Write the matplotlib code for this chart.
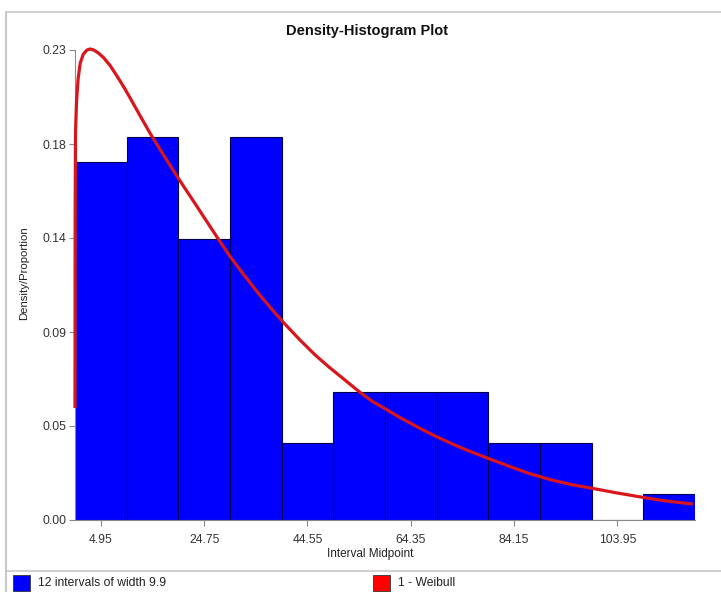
import numpy as np
import matplotlib
matplotlib.use("Agg")
import matplotlib.pyplot as plt
from matplotlib.patches import Rectangle
from matplotlib.lines import Line2D

plt.rcParams['font.family'] = ['Liberation Sans', 'DejaVu Sans']

# Histogram data (12 intervals of width 9.9), proportions per interval
bin_width = 9.9
midpoints = [4.95 + bin_width * i for i in range(12)]
proportions = [0.175, 0.1875, 0.1375, 0.1875, 0.0375, 0.0625,
               0.0625, 0.0625, 0.0375, 0.0375, 0.0, 0.0125]

# Fitted Weibull curve
curve_x = [0.0, 0.03, 0.1, 0.3, 0.6, 1.0, 1.6, 2.3, 2.9, 3.6, 4.5, 5.5, 6.7,
           7.6, 8.6, 9.6, 10.5, 12.5, 14.4, 16.5, 18.5, 20.5, 22.5, 24.5,
           27.2, 29.7, 32.5, 35.5, 38.0, 40.0, 43.1, 46.0, 48.5, 51.0, 54.6,
           57.0, 59.4, 62.5, 66.0, 69.4, 72.5, 75.1, 79.0, 83.0, 87.0, 91.0,
           95.0, 98.7, 103.5, 108.3, 113.0, 118.4]
curve_y = [0.0548, 0.15, 0.19, 0.205, 0.216, 0.2236, 0.228, 0.2300, 0.2305,
           0.2300, 0.2285, 0.2262, 0.2225, 0.219, 0.2150, 0.2108, 0.2068,
           0.1977, 0.1892, 0.1805, 0.1724, 0.1645, 0.1568, 0.1490, 0.1385,
           0.1290, 0.1195, 0.1098, 0.1023, 0.0965, 0.0881, 0.0808, 0.0752,
           0.0700, 0.0625, 0.0580, 0.0545, 0.0498, 0.0450, 0.0406, 0.0370,
           0.0342, 0.0303, 0.0265, 0.0228, 0.0198, 0.0174, 0.0157, 0.0134,
           0.0113, 0.0094, 0.0078]

y_ticks = [0.0, 0.046, 0.092, 0.138, 0.184, 0.23]
x_ticks = [4.95, 24.75, 44.55, 64.35, 84.15, 103.95]

W, H = 721, 592
fig = plt.figure(figsize=(W / 100, H / 100), dpi=100)
ax = fig.add_axes([75 / W, 1 - 520 / H, 620 / W, 470 / H])

ax.bar(midpoints, proportions, width=bin_width, color='#0000ff',
       edgecolor='#00004a', linewidth=0.8, zorder=2)
ax.plot(curve_x, curve_y, color='#d8161b', linewidth=2.3, zorder=3,
        clip_on=False, solid_capstyle='butt', solid_joinstyle='round')

ax.set_xlim(0, 12 * bin_width)
ax.set_ylim(0, 0.23)
ax.set_xticks(x_ticks)
ax.set_xticklabels(['%.2f' % v for v in x_ticks])
ax.set_yticks(y_ticks)
ax.set_yticklabels(['%.2f' % v for v in y_ticks])

for s in ['top', 'right']:
    ax.spines[s].set_visible(False)
for s in ['left', 'bottom']:
    ax.spines[s].set_color('#8a8a8a')
    ax.spines[s].set_linewidth(0.8)
ax.tick_params(axis='both', colors='#8a8a8a', length=4, width=0.8,
               labelcolor='#333333', labelsize=8.7)
ax.tick_params(axis='x', pad=6)
ax.tick_params(axis='y', pad=2)

fig.text(367 / W, 1 - 31 / H, 'Density-Histogram Plot', ha='center',
         va='center', fontsize=10.5, fontweight='bold', color='#111111')
fig.text(370 / W, 1 - 554 / H, 'Interval Midpoint', ha='center',
         va='center', fontsize=8.5, color='#222222')
fig.text(24 / W, 1 - 273 / H, 'Density/Proportion', ha='center',
         va='center', rotation=90, fontsize=8.2, color='#222222')

# window frame lines
fig.add_artist(Line2D([6 / W, 6 / W], [0, 1 - 12 / H], color='#c8c8c8',
                      linewidth=1.5))
fig.add_artist(Line2D([6 / W, 1], [1 - 12 / H, 1 - 12 / H], color='#c8c8c8',
                      linewidth=1.2))
fig.add_artist(Line2D([6 / W, 1], [1 - 571 / H, 1 - 571 / H],
                      color='#c8c8c8', linewidth=1.2))

# legend
legend_items = [('12 intervals of width 9.9', '#0000ff', 13),
                ('1 - Weibull', '#ff0000', 373)]
for label, col, x0 in legend_items:
    fig.add_artist(Rectangle((x0 / W, 1 - 591 / H), 17 / W, 16 / H,
                             transform=fig.transFigure, facecolor=col,
                             edgecolor='#333333', linewidth=0.6))
    fig.text((x0 + 25) / W, 1 - 583 / H, label, ha='left', va='center',
             fontsize=8.7, color='#222222')

fig.savefig('out.png', dpi=100)
